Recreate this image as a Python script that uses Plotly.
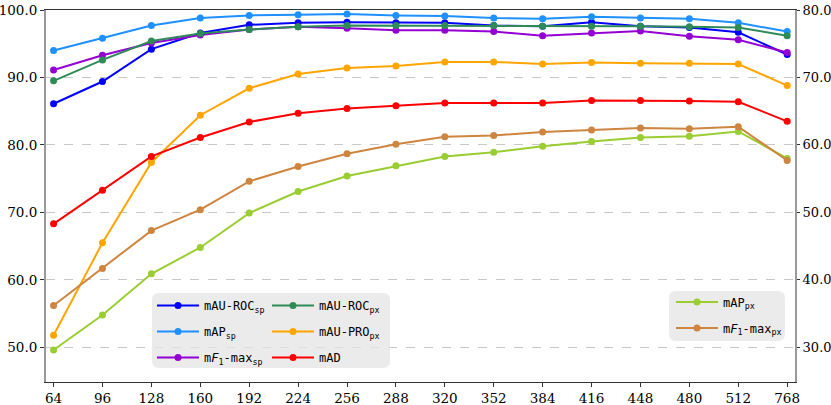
import plotly.graph_objects as go

# image size / resolution on the x axis
sizes = ["64", "96", "128", "160", "192", "224", "256", "288",
         "320", "352", "384", "416", "448", "480", "512", "768"]

# left axis metrics
mAUROC_sp = [86.1, 89.4, 94.2, 96.6, 97.8, 98.1, 98.2, 98.1, 98.1, 97.7, 97.6, 98.2, 97.6, 97.4, 96.7, 93.4]
mAP_sp = [94.0, 95.8, 97.7, 98.8, 99.2, 99.3, 99.4, 99.2, 99.1, 98.8, 98.7, 99.0, 98.8, 98.7, 98.1, 96.8]
mF1max_sp = [91.1, 93.3, 95.1, 96.3, 97.1, 97.5, 97.3, 97.0, 97.0, 96.8, 96.2, 96.6, 96.9, 96.1, 95.6, 93.7]
mAUROC_px = [89.5, 92.6, 95.4, 96.5, 97.1, 97.5, 97.7, 97.7, 97.7, 97.7, 97.6, 97.6, 97.6, 97.5, 97.4, 96.2]
mAUPRO_px = [51.8, 65.5, 77.4, 84.4, 88.4, 90.5, 91.4, 91.7, 92.3, 92.3, 92.0, 92.2, 92.1, 92.1, 92.0, 88.8]
mAD = [68.3, 73.3, 78.3, 81.1, 83.4, 84.7, 85.4, 85.8, 86.2, 86.2, 86.2, 86.6, 86.6, 86.5, 86.4, 83.5]

# right axis metrics
mAP_px = [29.6, 34.8, 40.9, 44.8, 49.9, 53.1, 55.4, 56.9, 58.3, 58.9, 59.8, 60.5, 61.1, 61.3, 62.0, 58.0]
mF1max_px = [36.2, 41.7, 47.3, 50.4, 54.6, 56.8, 58.7, 60.1, 61.2, 61.4, 61.9, 62.2, 62.5, 62.4, 62.7, 57.7]

left_series = [
    ("mAU-ROC<sub>sp</sub>", mAUROC_sp, "#0000ff", "legend"),
    ("mAP<sub>sp</sub>", mAP_sp, "#1e90ff", "legend"),
    ("m<i>F</i><sub>1</sub>-max<sub>sp</sub>", mF1max_sp, "#9400d3", "legend"),
    ("mAU-ROC<sub>px</sub>", mAUROC_px, "#2e8b57", "legend2"),
    ("mAU-PRO<sub>px</sub>", mAUPRO_px, "#ffa500", "legend2"),
    ("mAD", mAD, "#ff0000", "legend2"),
]
right_series = [
    ("mAP<sub>px</sub>", mAP_px, "#9acd32", "legend3"),
    ("m<i>F</i><sub>1</sub>-max<sub>px</sub>", mF1max_px, "#cd853f", "legend3"),
]

fig = go.Figure()
for i, (name, vals, col, leg) in enumerate(left_series):
    fig.add_trace(go.Scatter(x=sizes, y=vals, name=name, mode="lines+markers",
                             line=dict(color=col, width=2), marker=dict(color=col, size=7),
                             legend=leg, legendgroup="g%d" % i))
for i, (name, vals, col, leg) in enumerate(right_series):
    fig.add_trace(go.Scatter(x=sizes, y=vals, name=name, mode="lines+markers",
                             line=dict(color=col, width=2), marker=dict(color=col, size=7),
                             legend=leg, legendgroup="r%d" % i, yaxis="y2"))

W, H = 831, 405
L, R, T, B = 46, 36, 10, 23
pw, ph = W - L - R, H - T - B


def rounded_box(x0, y0, x1, y1, r=7):
    # pixel box -> paper coords path with rounded corners
    px = lambda v: (v - L) / pw
    py = lambda v: (H - B - v) / ph
    return ("M %f,%f L %f,%f Q %f,%f %f,%f L %f,%f Q %f,%f %f,%f L %f,%f Q %f,%f %f,%f L %f,%f Q %f,%f %f,%f Z" % (
        px(x0 + r), py(y0), px(x1 - r), py(y0), px(x1), py(y0), px(x1), py(y0 + r),
        px(x1), py(y1 - r), px(x1), py(y1), px(x1 - r), py(y1),
        px(x0 + r), py(y1), px(x0), py(y1), px(x0), py(y1 - r),
        px(x0), py(y0 + r), px(x0), py(y0), px(x0 + r), py(y0)))


box_style = dict(type="path", xref="paper", yref="paper", layer="above",
                 fillcolor="rgba(228,228,228,0.75)", line=dict(width=0))

leg_font = dict(family="DejaVu Sans Mono", size=12, color="black")
leg_common = dict(bgcolor="rgba(0,0,0,0)", borderwidth=0, font=leg_font,
                  tracegroupgap=7, itemwidth=42, xanchor="left", yanchor="top",
                  xref="paper", yref="paper")

serif = "DejaVu Serif"
tick_font = dict(family=serif, size=13.5, color="black")
tick_font_r = dict(family=serif, size=13, color="black")

fig.update_layout(
    width=W, height=H,
    margin=dict(l=L, r=R, t=T, b=B),
    plot_bgcolor="white", paper_bgcolor="white",
    font=dict(family=serif, size=13.5, color="black"),
    xaxis=dict(type="category", range=[-0.155, 15.16], showgrid=False,
               showline=True, linecolor="#333333", linewidth=1, mirror=True,
               ticks="outside", ticklen=4, tickcolor="#333333", zeroline=False,
               tickfont=tick_font, automargin=False),
    yaxis=dict(range=[44.86, 100], tickvals=[50, 60, 70, 80, 90, 100],
               ticktext=["50.0", "60.0", "70.0", "80.0", "90.0", "100.0"],
               showgrid=True, gridcolor="#c8c8c8", griddash="dash", gridwidth=1,
               showline=True, linecolor="#999999", linewidth=2,
               ticks="outside", ticklen=4, tickcolor="#333333", zeroline=False,
               tickfont=tick_font, automargin=False),
    yaxis2=dict(range=[24.86, 80], tickvals=[30, 40, 50, 60, 70, 80],
                ticktext=["30.0", "40.0", "50.0", "60.0", "70.0", "80.0"],
                overlaying="y", side="right", showgrid=False,
                showline=True, linecolor="#999999", linewidth=2,
                ticks="outside", ticklen=3, tickcolor="#333333", zeroline=False,
                tickfont=tick_font_r, automargin=False),
    legend=dict(x=(152 - L) / pw, y=(H - B - 291) / ph, **leg_common),
    legend2=dict(x=(267 - L) / pw, y=(H - B - 291) / ph, **leg_common),
    legend3=dict(x=(671 - L) / pw, y=(H - B - 287.5) / ph, **leg_common),
    shapes=[dict(path=rounded_box(152, 293, 390, 368), **box_style),
            dict(path=rounded_box(669, 291, 785, 341), **box_style)],
    showlegend=True,
)

# drop the default 8px page margin so the figure sits at the window's corner
fig.write_html("out.html", config={"displayModeBar": False},
               post_script="document.body.style.margin='0';")
